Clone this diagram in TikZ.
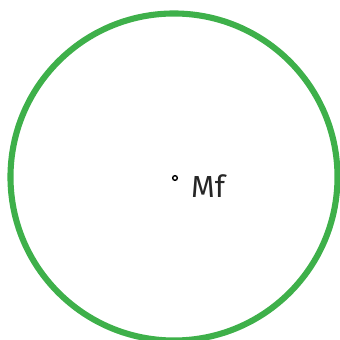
\documentclass[tikz,border=0pt]{standalone}
\usepackage{fontspec}
\setmainfont{Fira Sans}
\usepackage{xcolor}
\usetikzlibrary{positioning}
\definecolor{mfgreen}{RGB}{62,176,74}

\begin{document}
\begin{tikzpicture}[
  x=0.03cm, y=0.03cm,
  ring/.style={draw=mfgreen, line width=5.2pt, circle, minimum size=9.81cm, inner sep=0pt},
  pole/.style={draw=black, line width=1.2pt, circle, minimum size=0.14cm, inner sep=0pt},
  tag/.style={font=\fontsize{26}{30}\selectfont, text=black!85, inner sep=0pt}
]
\useasboundingbox (0,0) rectangle (340,340);

\node[ring] (field) at (174,163) {};
\node[pole] (centre) at (175,162) {};
\node[tag, anchor=base west] (mf) at (191,142) {Mf};
\end{tikzpicture}
\end{document}
